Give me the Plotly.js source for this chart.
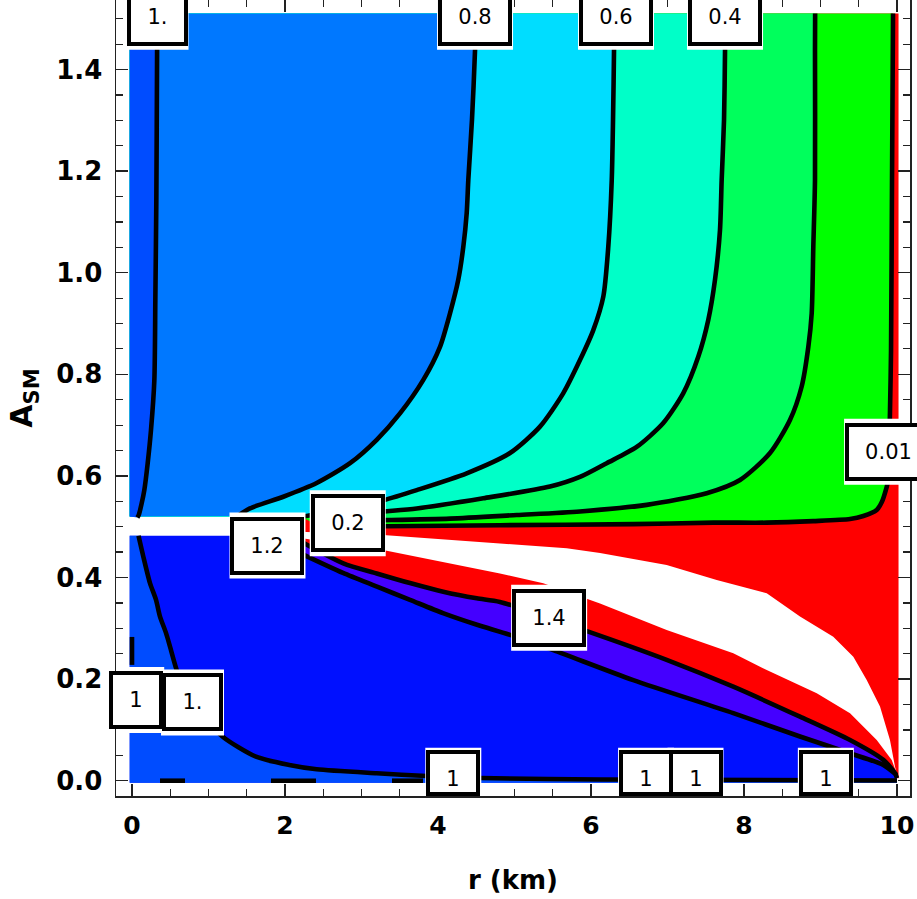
<!DOCTYPE html>
<html>
<head>
<meta charset="utf-8">
<script src="https://cdn.plot.ly/plotly-3.0.1.min.js"></script>
<style>html,body{margin:0;padding:0;background:#fff;}#chart{width:917px;height:899px;}</style>
</head>
<body>
<div id="chart"></div>
<script>
// ---------- data ----------
// contour "1." (upper half, far left)
const c100X = [0.33, 0.328, 0.318, 0.305, 0.292, 0.248, 0.205, 0.161, 0.125, 0.088, 0.07];
const c100Y = [1.51, 1.438, 1.143, 0.946, 0.788, 0.690, 0.625, 0.572, 0.545, 0.523, 0.518];
// contour 0.8
const c080X = [4.49, 4.484, 4.444, 4.396, 4.375, 4.331, 4.265, 4.157, 4.026, 3.808, 3.503, 3.199, 2.850, 2.414, 1.978, 1.542, 1.38];
const c080Y = [1.51, 1.438, 1.301, 1.182, 1.117, 1.051, 0.986, 0.920, 0.854, 0.789, 0.723, 0.671, 0.625, 0.586, 0.559, 0.536, 0.521];
// contour 0.6
const c060X = [6.305, 6.301, 6.288, 6.271, 6.226, 6.161, 6.030, 5.856, 5.638, 5.333, 4.941, 4.375, 3.722, 3.285, 2.719, 2.196];
const c060Y = [1.51, 1.438, 1.301, 1.182, 1.051, 0.953, 0.887, 0.828, 0.763, 0.697, 0.645, 0.605, 0.572, 0.552, 0.533, 0.519];
// contour 0.4
const c040X = [7.755, 7.752, 7.739, 7.708, 7.686, 7.621, 7.533, 7.403, 7.207, 6.945, 6.597, 6.205, 5.856, 5.464, 4.592, 3.722, 3.285, 2.458];
const c040Y = [1.51, 1.438, 1.301, 1.182, 1.084, 0.986, 0.907, 0.835, 0.763, 0.704, 0.657, 0.625, 0.598, 0.579, 0.556, 0.536, 0.530, 0.519];
// contour 0.2
const c020X = [8.93, 8.928, 8.928, 8.906, 8.885, 8.841, 8.754, 8.601, 8.340, 7.948, 7.512, 6.728, 5.856, 5.029, 4.157, 3.285, 2.458];
const c020Y = [1.51, 1.438, 1.182, 1.051, 0.920, 0.854, 0.776, 0.710, 0.645, 0.592, 0.566, 0.543, 0.530, 0.523, 0.516, 0.513, 0.511];
// contour 0.01
const c001X = [9.948, 9.935, 9.922, 9.908, 9.886, 9.865, 9.80, 9.735, 9.56, 9.386, 8.906, 8.297, 7.6, 6.553, 4.81, 3.281, 2.458];
const c001Y = [1.51, 1.182, 0.847, 0.724, 0.592, 0.578, 0.548, 0.533, 0.521, 0.515, 0.511, 0.508, 0.508, 0.505, 0.503, 0.501, 0.501];
// contour "1." (lower half)
const cLowX = [0.085, 0.148, 0.235, 0.314, 0.366, 0.444, 0.497, 0.584, 0.693, 0.889, 1.186, 1.621, 2.056, 2.414, 3.199, 3.852, 4.549, 6.118, 10.0];
const cLowY = [0.482, 0.441, 0.389, 0.356, 0.323, 0.291, 0.264, 0.218, 0.179, 0.135, 0.0866, 0.0472, 0.0309, 0.0224, 0.0146, 0.0093, 0.0053, 0.0024, 0.0004];
// contour 1.2 (upper edge of the violet band)
const c120X = [2.196, 2.762, 3.199, 3.634, 4.069, 4.506, 4.810, 5.899, 6.989, 7.860, 8.732, 9.386, 9.821, 9.974, 10.0];
const c120Y = [0.472, 0.428, 0.408, 0.389, 0.372, 0.359, 0.352, 0.297, 0.238, 0.185, 0.126, 0.080, 0.041, 0.015, 0.005];
// contour 1.4 (lower edge of the violet band)
const c140X = [2.196, 2.758, 3.203, 3.634, 4.065, 4.510, 4.941, 5.507, 6.553, 7.860, 8.732, 9.386, 9.821, 9.996];
const c140Y = [0.448, 0.409, 0.382, 0.356, 0.330, 0.307, 0.287, 0.257, 0.198, 0.133, 0.087, 0.054, 0.031, 0.011];
// white (undefined) band inside the red region
const whiteTopX = [2.2, 3.281, 4.81, 5.682, 6.118, 6.989, 7.643, 8.297, 8.732, 9.167, 9.429, 9.604, 9.778, 9.908, 9.974, 9.996];
const whiteTopY = [0.49, 0.4837, 0.467, 0.4575, 0.448, 0.4246, 0.395, 0.369, 0.323, 0.2835, 0.244, 0.198, 0.146, 0.0801, 0.0276, 0.0146];
const whiteBotX = [2.2, 3.281, 4.81, 5.376, 6.118, 6.989, 7.860, 8.297, 8.951, 9.386, 9.735, 9.931, 9.996];
const whiteBotY = [0.478, 0.4542, 0.408, 0.3886, 0.349, 0.2967, 0.2508, 0.2179, 0.172, 0.1327, 0.0801, 0.0407, 0.0146];
// pieces of contour 1 lying on the axes
const axisPiecesX = [0.366, 0.693, null, 1.817, 2.405, null, 3.399, 3.804];
const axisPiecesY = [0, 0, null, 0, 0, null, 0, 0];
const leftPieceX = [0, 0];
const leftPieceY = [0.228, 0.283];
// region limits of the filled area
const X_LEFT = -0.03, X_RIGHT = 10.0, X_RED_RIGHT = 10.02;
const Y_TOP = 1.51, Y_BOTTOM = -0.004, Y_GAP_TOP = 0.52, Y_GAP_BOT = 0.482, X_GAP_END = 2.2;
// contour labels
const labelText = ['1.', '0.8', '0.6', '0.4', '0.01', '0.2', '1.2', '1.4', '1', '1.', '1', '1', '1', '1'];
const labelX = [0.327, 4.484, 6.327, 7.752, 9.89, 2.820, 1.771, 5.453, 0.055, 0.791, 4.2, 6.72, 7.366, 9.07];
const labelY = [1.504, 1.504, 1.504, 1.504, 0.6476, 0.507, 0.463, 0.3207, 0.159, 0.154, 0.0, 0.0, 0.0, 0.0];
// ticks
const xTicks = [0, 2, 4, 6, 8, 10];
const yTicks = [0, 0.2, 0.4, 0.6, 0.8, 1.0, 1.2, 1.4];

// ---------- colours ----------
const COL = {
  deep: '#0010ff', med: '#004cff', azure: '#0078ff', cyan: '#00ddff',
  aqua: '#00ffc8', spring: '#00ff5c', green: '#00ff00', red: '#ff0000', violet: '#4400ff'
};

const xRange = [-0.2092, 10.170];
const yRange = [-0.0301, 1.5368];

function fillPoly(xs, ys, color) {
  return {x: xs, y: ys, type: 'scatter', mode: 'lines', fill: 'toself', fillcolor: color,
          line: {width: 0, color: color}, hoverinfo: 'skip', showlegend: false};
}
function blackLine(xs, ys, shape) {
  return {x: xs, y: ys, type: 'scatter', mode: 'lines',
          line: {color: '#000', width: 4.6, shape: shape || 'spline', smoothing: 0.7},
          hoverinfo: 'skip', showlegend: false};
}
function rev(a) { return a.slice().reverse(); }
function band(cx, cy, wide) {
  const ex = wide ? [X_GAP_END, X_LEFT, X_LEFT] : [X_LEFT, X_LEFT];
  const ey = wide ? [Y_GAP_TOP, Y_GAP_TOP, Y_TOP] : [Y_GAP_TOP, Y_TOP];
  return [cx.concat(ex), cy.concat(ey)];
}

const traces = [];
traces.push(fillPoly([X_LEFT, X_RIGHT, X_RIGHT, X_LEFT], [Y_BOTTOM, Y_BOTTOM, Y_GAP_BOT, Y_GAP_BOT], COL.deep));
traces.push(fillPoly([X_LEFT].concat(cLowX, [X_RIGHT, X_LEFT]), [Y_GAP_BOT].concat(cLowY, [Y_BOTTOM, Y_BOTTOM]), COL.med));
traces.push(fillPoly(c120X.concat([X_RED_RIGHT, X_RED_RIGHT, X_GAP_END]), c120Y.concat([c120Y[c120Y.length - 1], Y_TOP, Y_TOP]), COL.red));
traces.push(fillPoly(whiteTopX.concat(rev(whiteBotX)), whiteTopY.concat(rev(whiteBotY)), '#ffffff'));
traces.push(fillPoly(c120X.concat(rev(c140X)), c120Y.concat(rev(c140Y)), COL.violet));
let p;
p = band(c001X, c001Y, true); traces.push(fillPoly(p[0], p[1], COL.green));
p = band(c020X, c020Y, true); traces.push(fillPoly(p[0], p[1], COL.spring));
p = band(c040X, c040Y, true); traces.push(fillPoly(p[0], p[1], COL.aqua));
p = band(c060X, c060Y, true); traces.push(fillPoly(p[0], p[1], COL.cyan));
p = band(c080X, c080Y, false); traces.push(fillPoly(p[0], p[1], COL.azure));
p = band(c100X, c100Y, false); traces.push(fillPoly(p[0], p[1], COL.med));

[[c100X, c100Y], [c080X, c080Y], [c060X, c060Y], [c040X, c040Y], [c020X, c020Y], [c001X, c001Y],
 [cLowX, cLowY], [c120X, c120Y], [c140X, c140Y]].forEach(function (c) { traces.push(blackLine(c[0], c[1])); });
traces.push(blackLine(axisPiecesX, axisPiecesY, 'linear'));
traces.push(blackLine(leftPieceX, leftPieceY, 'linear'));

// ---------- contour labels: white halo (shape) + framed box (annotation) ----------
const LABEL_FONT = 21;
const ctx = document.createElement('canvas').getContext('2d');
ctx.font = LABEL_FONT + 'px "DejaVu Sans"';
const PX_PER_Y = 796 / (yRange[1] - yRange[0]);
const annotations = [];
const shapes = [];
const BOX_H = 48;
labelText.forEach(function (t, i) {
  const tw = Math.ceil(ctx.measureText(t).width);
  const w = tw + 30;
  const outerW = w + 6, outerH = BOX_H + 6;
  const aboveBottom = (labelY[i] - yRange[0]) * PX_PER_Y;
  if (aboveBottom < outerH / 2) {
    // box cut at the frame, as in the reference
    const visible = aboveBottom + outerH / 2;
    shapes.push({type: 'rect', xref: 'x', yref: 'y', xsizemode: 'pixel', ysizemode: 'pixel',
      xanchor: labelX[i], yanchor: yRange[0], x0: -outerW / 2 - 3, x1: outerW / 2 + 3, y0: 0, y1: visible + 6,
      fillcolor: '#ffffff', line: {width: 0}, layer: 'above'});
    annotations.push({x: labelX[i], y: yRange[0], xref: 'x', yref: 'y', text: t, showarrow: false,
      width: w, height: visible - 6, bgcolor: '#ffffff', bordercolor: '#000', borderwidth: 4, borderpad: 1,
      xanchor: 'center', yanchor: 'bottom', valign: 'bottom',
      font: {family: 'DejaVu Sans', size: LABEL_FONT, color: '#000'}});
  } else {
    shapes.push({type: 'rect', xref: 'x', yref: 'y', xsizemode: 'pixel', ysizemode: 'pixel',
      xanchor: labelX[i], yanchor: labelY[i], x0: -outerW / 2 - 3, x1: outerW / 2 + 3,
      y0: -outerH / 2 - 6, y1: outerH / 2 + 6,
      fillcolor: '#ffffff', line: {width: 0}, layer: 'above'});
    annotations.push({x: labelX[i], y: labelY[i], xref: 'x', yref: 'y', text: t, showarrow: false,
      width: w, height: BOX_H, bgcolor: '#ffffff', bordercolor: '#000', borderwidth: 4, borderpad: 1,
      xanchor: 'center', yanchor: 'middle',
      font: {family: 'DejaVu Sans', size: LABEL_FONT, color: '#000'}});
  }
});

const tickFontX = {family: 'DejaVu Sans', size: 25, color: '#000', weight: 'bold'};
const tickFontY = {family: 'DejaVu Sans', size: 26, color: '#000', weight: 'bold'};

const layout = {
  width: 917, height: 899,
  margin: {l: 116, r: 7, t: 0, b: 103, pad: 0},
  paper_bgcolor: '#ffffff', plot_bgcolor: '#ffffff',
  showlegend: false,
  xaxis: {
    range: xRange, showgrid: false, zeroline: false,
    showline: true, linecolor: '#222', linewidth: 1.5, mirror: 'allticks',
    ticks: 'inside', ticklen: 12, tickwidth: 1.5, tickcolor: '#222',
    tickvals: xTicks, ticktext: xTicks.map(String), tickfont: tickFontX,
    ticklabelstandoff: 6,
    minor: {ticks: 'inside', dtick: 0.5, tick0: 0, ticklen: 7, tickwidth: 1.2, tickcolor: '#222'},
    title: {text: 'r (km)', font: {family: 'DejaVu Sans', size: 26, color: '#000', weight: 'bold'}, standoff: 32}
  },
  yaxis: {
    range: yRange, showgrid: false, zeroline: false,
    showline: true, linecolor: '#222', linewidth: 1.5, mirror: 'allticks',
    ticks: 'inside', ticklen: 12, tickwidth: 1.5, tickcolor: '#222',
    tickvals: yTicks, ticktext: yTicks.map(function (v) { return v.toFixed(1); }), tickfont: tickFontY,
    ticklabelstandoff: 7,
    minor: {ticks: 'inside', dtick: 0.05, tick0: 0, ticklen: 7, tickwidth: 1.2, tickcolor: '#222'},
    title: {text: 'A<sub>SM</sub>', font: {family: 'DejaVu Sans', size: 30, color: '#000', weight: 'bold'}, standoff: 14}
  },
  shapes: shapes,
  annotations: annotations
};

Plotly.newPlot('chart', traces, layout, {staticPlot: true, displayModeBar: false});
</script>
</body>
</html>
